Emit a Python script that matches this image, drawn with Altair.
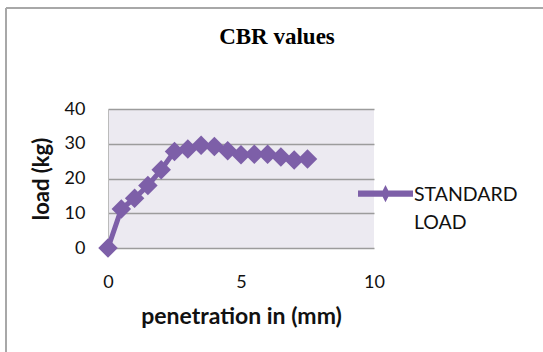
import altair as alt
import pandas as pd

penetration = [0, 0.5, 1.0, 1.5, 2.0, 2.5, 3.0, 3.5, 4.0, 4.5, 5.0, 5.5, 6.0, 6.5, 7.0, 7.5]
load = [0, 11.2, 14.3, 18.0, 22.5, 27.8, 28.5, 29.6, 29.2, 28.0, 26.8, 27.0, 27.0, 26.2, 25.3, 25.6]
series = "STANDARD LOAD"
legend_lines = ["STANDARD", "LOAD"]
x_ticks = [0, 5, 10]
y_ticks = [0, 10, 20, 30, 40]

purple = "#7D5FA8"

df = pd.DataFrame({"penetration": penetration, "load": load, "series": series})

legend_shape = (
    "M-1,-0.36H1V-0.14H-1Z "
    "M0,-0.56L0.16,-0.25L0,0.06L-0.16,-0.25Z"
)

label_expr = "[" + ", ".join("'" + s + "'" for s in legend_lines) + "]"

color = alt.Color(
    "series:N",
    scale=alt.Scale(range=[purple]),
    legend=alt.Legend(
        title=None,
        orient="none",
        legendX=250,
        legendY=64,
        padding=0,
        symbolType=legend_shape,
        symbolSize=3025,
        symbolFillColor=purple,
        symbolStrokeWidth=0,
        labelExpr=label_expr,
        labelFont="Lato",
        labelFontSize=19.5,
        labelColor="#111111",
        labelBaseline="alphabetic",
        labelOffset=1,
        labelLimit=250,
    ),
)

x = alt.X(
    "penetration:Q",
    scale=alt.Scale(domain=[0, 10], nice=False),
    axis=alt.Axis(
        values=x_ticks,
        title="penetration in (mm)",
        grid=False,
        domain=False,
        ticks=False,
        labelFlush=False,
        labelPadding=25,
        labelFont="Lato",
        labelFontSize=18,
        labelColor="#111111",
        titleFont="Lato",
        titleFontSize=23,
        titleFontWeight="bold",
        titleColor="#111111",
        titlePadding=14,
    ),
)

y = alt.Y(
    "load:Q",
    scale=alt.Scale(domain=[0, 40], nice=False),
    axis=alt.Axis(
        values=y_ticks,
        title="load (kg)",
        grid=True,
        gridColor="#9C9C9C",
        gridWidth=1.5,
        domain=True,
        domainColor="#BBBBBB",
        domainWidth=1,
        ticks=False,
        labelFlush=False,
        labelPadding=23,
        labelFont="Lato",
        labelFontSize=18,
        labelColor="#111111",
        titleFont="Lato",
        titleFontSize=22,
        titleFontWeight="bold",
        titleColor="#111111",
        titlePadding=11,
    ),
)

base = alt.Chart(df)

line = base.mark_line(strokeWidth=5).encode(x=x, y=y, color=color)
points = base.mark_point(shape="diamond", filled=True, size=380, opacity=1).encode(
    x=x, y=y, color=color
)

frame_left = alt.Chart(df).mark_rule(color="#A8A8A8", strokeWidth=2).encode(
    x=alt.value(-102), y=alt.value(-101), y2=alt.value(260)
)
frame_top = alt.Chart(df).mark_rule(color="#A8A8A8", strokeWidth=2).encode(
    x=alt.value(-102), x2=alt.value(440), y=alt.value(-101)
)

chart = (
    alt.layer(frame_left, frame_top, line, points)
    .properties(
        width=266,
        height=139,
        padding={"left": 108, "top": 109, "right": 169, "bottom": 104},
        autosize=alt.AutoSizeParams(type="none"),
        background="white",
        title=alt.TitleParams(
            "CBR values",
            font="Liberation Serif",
            fontSize=23,
            fontWeight="bold",
            color="#000000",
            anchor="middle",
            frame="bounds",
            baseline="alphabetic",
            offset=-60,
        ),
    )
    .configure(style={"guide-label": {"lineHeight": 28}})
    .configure_view(fill="#ECEAF1", stroke=None)
)

chart.save("out.html", embed_options={"renderer": "svg", "actions": False})
